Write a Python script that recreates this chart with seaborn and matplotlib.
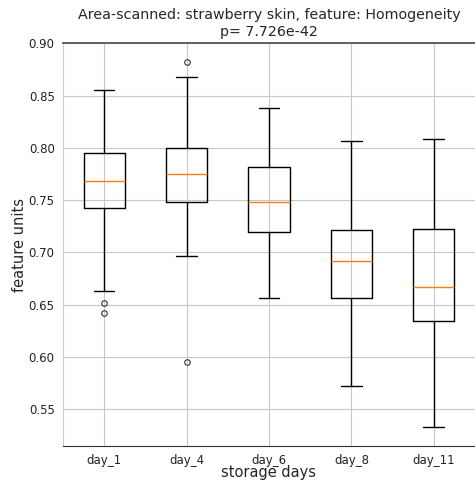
import numpy as np
import pandas as pd
import matplotlib
matplotlib.use("Agg")
import matplotlib.pyplot as plt
import seaborn as sns

# Box statistics
days = ["day_1", "day_4", "day_6", "day_8", "day_11"]
whisker_lo = [0.663, 0.6965, 0.656, 0.572, 0.533]
q1 = [0.742, 0.748, 0.719, 0.656, 0.634]
medians = [0.768, 0.7745, 0.748, 0.692, 0.667]
q3 = [0.7955, 0.7997, 0.782, 0.7213, 0.7223]
whisker_hi = [0.855, 0.868, 0.838, 0.8067, 0.8083]
outliers_lo = [[0.651, 0.642], [0.5954], [], [], []]
outliers_hi = [[], [0.8825], [], [], []]


def sample_from_stats(wlo, a, m, b, whi, out_lo, out_hi):
    # repeat the read values so the quartiles land exactly on them
    k = max(len(out_lo), len(out_hi)) + 1
    low = sorted(out_lo) + [wlo] * (k - len(out_lo))
    high = [whi] * (k - len(out_hi)) + sorted(out_hi)
    return low + [a] * k + [m] + [b] * k + high


rows = []
for i, d in enumerate(days):
    vals = sample_from_stats(whisker_lo[i], q1[i], medians[i], q3[i],
                             whisker_hi[i], outliers_lo[i], outliers_hi[i])
    rows += [(d, v) for v in vals]
df = pd.DataFrame(rows, columns=["day", "value"])

sns.set_style("white")
plt.rcParams["font.family"] = ["DejaVu Sans"]

fig = plt.figure(figsize=(4.75, 4.86), dpi=100)
ax = fig.add_axes([0.1326, 0.0823, 0.8674, 0.8292])

sns.boxplot(data=df, x="day", y="value", order=days, ax=ax,
            fill=False, color="black", width=0.5, linewidth=1,
            medianprops={"color": "#ff7f0e", "linewidth": 1},
            flierprops={"marker": "o", "markerfacecolor": "none",
                        "markeredgecolor": "#333333", "markersize": 4,
                        "markeredgewidth": 0.8})

ax.set_ylim(0.5146, 0.9003)
ax.grid(True, color="#c8c8c8", linewidth=0.8)
ax.set_axisbelow(True)
ax.spines["left"].set_color("#cccccc")
ax.spines["right"].set_visible(False)
ax.spines["top"].set_color("#555555")
ax.spines["top"].set_linewidth(1.3)
ax.spines["bottom"].set_color("#333333")
ax.tick_params(axis="both", labelsize=8.5, length=4, color="#333333",
               labelcolor="#222222", pad=2)
ax.tick_params(axis="x", pad=1.5)
ax.set_xlabel("storage days", fontsize=10.5, labelpad=-1)
ax.set_ylabel("feature units", fontsize=10.5, labelpad=1)
ax.set_title("Area-scanned: strawberry skin, feature: Homogeneity\np= 7.726e-42",
             fontsize=10.3, pad=5, linespacing=1.3)

fig.savefig("out.png", dpi=100)
